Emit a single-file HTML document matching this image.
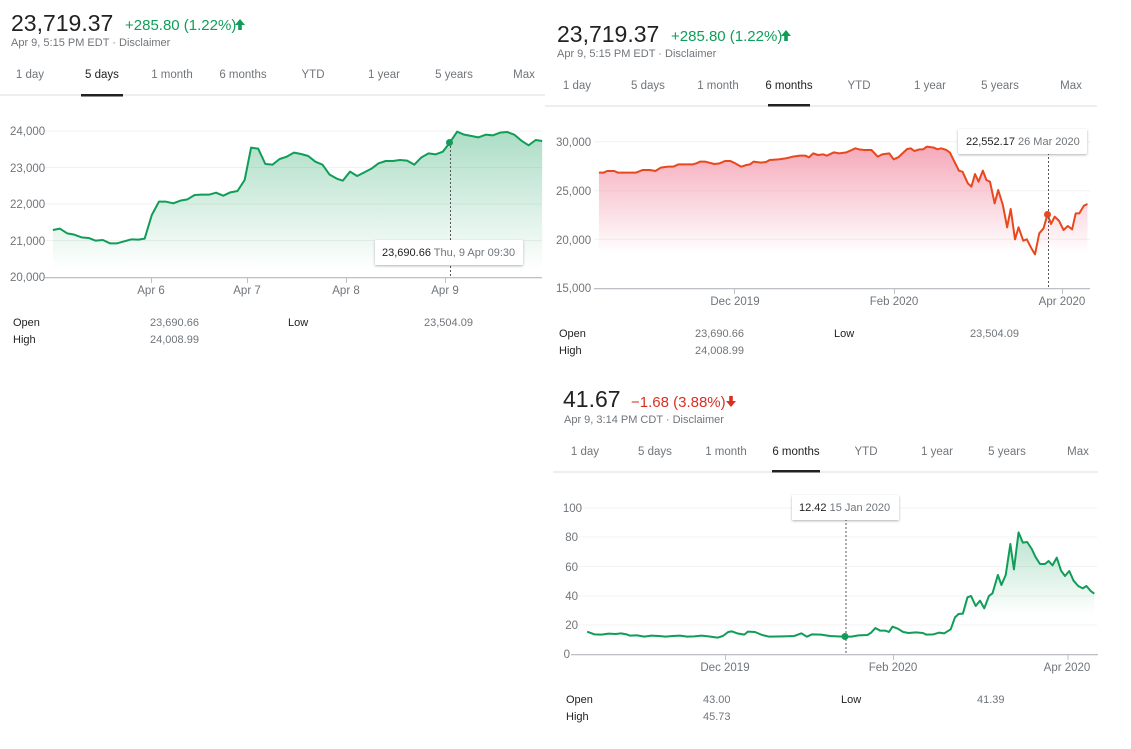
<!DOCTYPE html>
<html><head><meta charset="utf-8"><style>
html,body{margin:0;padding:0;background:#fff}
svg{display:block;font-family:"Liberation Sans",Arial,sans-serif}
.big{font-size:23px;fill:#222}
.g{fill:#0f9d58;font-size:15px}
.r{fill:#d93025;font-size:15px}
.sub{font-size:11px;fill:#70757a}
.tab{font-size:11.5px;fill:#70757a;text-anchor:middle}
.tabs{font-size:11.5px;fill:#222;text-anchor:middle}
.ax{font-size:11.5px;fill:#70757a}
.st{font-size:11px;fill:#222}
.sv{font-size:11px;fill:#70757a}
.ln{fill:none;stroke-width:2;stroke-linejoin:round;vector-effect:non-scaling-stroke}
</style></head><body>
<svg width="1131" height="749" viewBox="0 0 1131 749">
<defs>
<linearGradient id="g1" gradientUnits="userSpaceOnUse" x1="0" y1="390" x2="0" y2="810"><stop offset="0" stop-color="#0f9d58" stop-opacity=".35"/><stop offset="1" stop-color="#0f9d58" stop-opacity="0"/></linearGradient>
<linearGradient id="g2" gradientUnits="userSpaceOnUse" x1="0" y1="135" x2="0" y2="460"><stop offset="0" stop-color="#f28ba2" stop-opacity=".75"/><stop offset="1" stop-color="#f28ba2" stop-opacity="0"/></linearGradient>
<linearGradient id="g3" gradientUnits="userSpaceOnUse" x1="0" y1="150" x2="0" y2="405"><stop offset="0" stop-color="#0f9d58" stop-opacity=".3"/><stop offset="1" stop-color="#0f9d58" stop-opacity="0"/></linearGradient>
<filter id="sh" x="-10%" y="-20%" width="120%" height="150%"><feDropShadow dx="0" dy="1" stdDeviation="1.2" flood-opacity=".3"/></filter>
</defs>

<!-- PANEL 1 -->
<text x="11" y="31" class="big">23,719.37</text>
<text x="125" y="30" class="g">+285.80 (1.22%)</text>
<path d="M240 19 l-5 6 h3.2 v5 h3.6 v-5 h3.2z" fill="#0f9d58"/>
<text x="11" y="46" class="sub">Apr 9, 5:15 PM EDT · Disclaimer</text>
<text x="30" y="78" class="tab">1 day</text>
<text x="102" y="78" class="tabs">5 days</text>
<text x="172" y="78" class="tab">1 month</text>
<text x="243" y="78" class="tab">6 months</text>
<text x="313" y="78" class="tab">YTD</text>
<text x="384" y="78" class="tab">1 year</text>
<text x="454" y="78" class="tab">5 years</text>
<text x="524" y="78" class="tab">Max</text>
<rect x="0" y="94.5" width="545" height="1" fill="#dadce0"/>
<rect x="81" y="94" width="42" height="2.5" fill="#222"/>
<g stroke="#f1f1f1"><line x1="45" y1="131" x2="542" y2="131"/><line x1="45" y1="167.5" x2="542" y2="167.5"/><line x1="45" y1="204" x2="542" y2="204"/><line x1="45" y1="240.5" x2="542" y2="240.5"/></g>
<g class="ax"><text x="10" y="135">24,000</text><text x="10" y="172">23,000</text><text x="10" y="208">22,000</text><text x="10" y="245">21,000</text><text x="10" y="281">20,000</text></g>
<g transform="scale(0.35714,0.33333)">
<polygon fill="url(#g1)" points="148,831 148,690 168,686 188,700 208,704 228,712 248,714 268,722 288,720 308,730 328,730 348,724 368,718 388,719 405,716 425,645 445,605 465,605 485,610 505,602 525,598 545,585 565,584 585,584 605,578 625,587 645,577 665,573 685,540 703,443 723,446 743,492 763,494 783,477 803,470 823,458 843,462 863,468 883,485 903,494 923,524 943,536 960,542 980,515 1000,528 1020,517 1040,506 1060,490 1080,483 1100,483 1120,480 1140,482 1160,494 1180,472 1200,460 1220,463 1240,455 1260,427 1280,395 1300,404 1320,408 1340,412 1360,404 1380,406 1400,398 1420,396 1440,404 1460,422 1480,436 1500,420 1518,423 1518,831"/>
<polyline class="ln" stroke="#0f9d58" points="148,690 168,686 188,700 208,704 228,712 248,714 268,722 288,720 308,730 328,730 348,724 368,718 388,719 405,716 425,645 445,605 465,605 485,610 505,602 525,598 545,585 565,584 585,584 605,578 625,587 645,577 665,573 685,540 703,443 723,446 743,492 763,494 783,477 803,470 823,458 843,462 863,468 883,485 903,494 923,524 943,536 960,542 980,515 1000,528 1020,517 1040,506 1060,490 1080,483 1100,483 1120,480 1140,482 1160,494 1180,472 1200,460 1220,463 1240,455 1260,427 1280,395 1300,404 1320,408 1340,412 1360,404 1380,406 1400,398 1420,396 1440,404 1460,422 1480,436 1500,420 1518,423"/>
</g>
<rect x="45" y="277" width="497" height="1.3" fill="#bdc1c6"/>
<g stroke="#bdc1c6"><line x1="151.5" y1="277" x2="151.5" y2="283"/><line x1="247.5" y1="277" x2="247.5" y2="283"/><line x1="346.5" y1="277" x2="346.5" y2="283"/><line x1="445.5" y1="277" x2="445.5" y2="283"/></g>
<g class="ax" text-anchor="middle"><text x="151" y="294">Apr 6</text><text x="247" y="294">Apr 7</text><text x="346" y="294">Apr 8</text><text x="445" y="294">Apr 9</text></g>
<line x1="450.5" y1="142" x2="450.5" y2="277" stroke="#555" stroke-dasharray="2,2"/>
<circle cx="449.5" cy="142.5" r="3.5" fill="#0f9d58"/>
<rect x="375" y="240" width="148" height="25" fill="#fff" filter="url(#sh)" rx="1"/>
<text x="382" y="256" style="font-size:11px;fill:#222">23,690.66 <tspan fill="#70757a">Thu, 9 Apr 09:30</tspan></text>
<text x="13" y="326" class="st">Open</text><text x="150" y="326" class="sv">23,690.66</text>
<text x="288" y="326" class="st">Low</text><text x="424" y="326" class="sv">23,504.09</text>
<text x="13" y="343" class="st">High</text><text x="150" y="343" class="sv">24,008.99</text>

<!-- PANEL 2 -->
<text x="557" y="42" class="big">23,719.37</text>
<text x="671" y="41" class="g">+285.80 (1.22%)</text>
<path d="M786 30 l-5 6 h3.2 v5 h3.6 v-5 h3.2z" fill="#0f9d58"/>
<text x="557" y="57" class="sub">Apr 9, 5:15 PM EDT · Disclaimer</text>
<text x="577" y="89" class="tab">1 day</text>
<text x="648" y="89" class="tab">5 days</text>
<text x="718" y="89" class="tab">1 month</text>
<text x="789" y="89" class="tabs">6 months</text>
<text x="859" y="89" class="tab">YTD</text>
<text x="930" y="89" class="tab">1 year</text>
<text x="1000" y="89" class="tab">5 years</text>
<text x="1071" y="89" class="tab">Max</text>
<rect x="545" y="105.5" width="552" height="1" fill="#dadce0"/>
<rect x="768" y="104" width="42" height="2.5" fill="#222"/>
<g stroke="#f1f1f1"><line x1="594" y1="141.7" x2="1090" y2="141.7"/><line x1="594" y1="190.7" x2="1090" y2="190.7"/><line x1="594" y1="239.3" x2="1090" y2="239.3"/></g>
<g class="ax"><text x="556" y="146">30,000</text><text x="556" y="195">25,000</text><text x="556" y="244">20,000</text><text x="556" y="292">15,000</text></g>
<g transform="translate(550,100) scale(0.35714,0.33333)">
<polygon fill="url(#g2)" points="137,567 137,218 150,218 160,213 180,213 190,218 240,218 260,210 280,210 295,213 310,203 330,200 345,200 360,193 400,193 410,190 420,185 435,185 460,192 475,190 490,183 505,183 515,188 535,200 550,195 560,193 570,185 590,188 605,186 615,180 640,178 660,175 680,170 700,167 715,167 725,172 737,160 750,165 765,163 775,167 795,157 810,160 830,157 845,150 855,145 865,148 880,150 900,150 918,170 930,163 950,160 962,178 975,172 985,162 1000,147 1010,145 1020,153 1035,148 1045,148 1055,140 1075,143 1085,148 1095,145 1110,150 1120,158 1130,180 1145,212 1155,215 1170,250 1180,260 1190,222 1200,245 1212,212 1222,240 1232,245 1245,310 1255,270 1268,315 1280,382 1290,327 1302,418 1312,382 1325,422 1335,418 1348,445 1358,463 1370,400 1382,385 1393,343 1403,372 1413,350 1425,362 1438,390 1450,378 1462,388 1472,340 1482,340 1495,317 1505,312 1505,567"/>
<polyline class="ln" stroke="#e8481c" points="137,218 150,218 160,213 180,213 190,218 240,218 260,210 280,210 295,213 310,203 330,200 345,200 360,193 400,193 410,190 420,185 435,185 460,192 475,190 490,183 505,183 515,188 535,200 550,195 560,193 570,185 590,188 605,186 615,180 640,178 660,175 680,170 700,167 715,167 725,172 737,160 750,165 765,163 775,167 795,157 810,160 830,157 845,150 855,145 865,148 880,150 900,150 918,170 930,163 950,160 962,178 975,172 985,162 1000,147 1010,145 1020,153 1035,148 1045,148 1055,140 1075,143 1085,148 1095,145 1110,150 1120,158 1130,180 1145,212 1155,215 1170,250 1180,260 1190,222 1200,245 1212,212 1222,240 1232,245 1245,310 1255,270 1268,315 1280,382 1290,327 1302,418 1312,382 1325,422 1335,418 1348,445 1358,463 1370,400 1382,385 1393,343 1403,372 1413,350 1425,362 1438,390 1450,378 1462,388 1472,340 1482,340 1495,317 1505,312"/>
</g>
<rect x="594" y="288" width="496" height="1.3" fill="#bdc1c6"/>
<g stroke="#bdc1c6"><line x1="734.5" y1="288" x2="734.5" y2="294"/><line x1="894.5" y1="288" x2="894.5" y2="294"/><line x1="1062.5" y1="288" x2="1062.5" y2="294"/></g>
<g class="ax" text-anchor="middle"><text x="735" y="305">Dec 2019</text><text x="894" y="305">Feb 2020</text><text x="1062" y="305">Apr 2020</text></g>
<line x1="1048.5" y1="153" x2="1048.5" y2="288" stroke="#555" stroke-dasharray="2,2"/>
<circle cx="1047.5" cy="214.5" r="3.5" fill="#e8481c"/>
<rect x="958" y="129" width="129" height="25" fill="#fff" filter="url(#sh)" rx="1"/>
<text x="966" y="145" style="font-size:11px;fill:#222">22,552.17 <tspan fill="#70757a">26 Mar 2020</tspan></text>
<text x="559" y="337" class="st">Open</text><text x="695" y="337" class="sv">23,690.66</text>
<text x="834" y="337" class="st">Low</text><text x="970" y="337" class="sv">23,504.09</text>
<text x="559" y="354" class="st">High</text><text x="695" y="354" class="sv">24,008.99</text>

<!-- PANEL 3 -->
<text x="563" y="407" class="big">41.67</text>
<text x="631" y="407" class="r">−1.68 (3.88%)</text>
<path d="M731 407 l-5 -6 h3.2 v-5 h3.6 v5 h3.2z" fill="#d93025"/>
<text x="564" y="423" class="sub">Apr 9, 3:14 PM CDT · Disclaimer</text>
<text x="585" y="455" class="tab">1 day</text>
<text x="655" y="455" class="tab">5 days</text>
<text x="726" y="455" class="tab">1 month</text>
<text x="796" y="455" class="tabs">6 months</text>
<text x="866" y="455" class="tab">YTD</text>
<text x="937" y="455" class="tab">1 year</text>
<text x="1007" y="455" class="tab">5 years</text>
<text x="1078" y="455" class="tab">Max</text>
<rect x="553" y="471.5" width="545" height="1" fill="#dadce0"/>
<rect x="772" y="470" width="48" height="2.5" fill="#222"/>
<g stroke="#f3f3f3"><line x1="573" y1="508" x2="1097" y2="508"/><line x1="573" y1="537" x2="1097" y2="537"/><line x1="573" y1="566.5" x2="1097" y2="566.5"/><line x1="573" y1="596" x2="1097" y2="596"/><line x1="573" y1="625" x2="1097" y2="625"/></g>
<g class="ax" text-anchor="end"><text x="582" y="512">100</text><text x="578" y="541">80</text><text x="578" y="571">60</text><text x="578" y="600">40</text><text x="578" y="629">20</text><text x="570" y="658">0</text></g>
<g transform="translate(555,480) scale(0.35714,0.33333)">
<polygon fill="url(#g3)" points="90,522 90,455 110,463 130,464 150,461 170,462 185,460 200,463 210,467 230,466 250,470 270,467 290,468 310,470 330,468 350,467 370,470 390,469 410,467 430,469 455,473 470,468 485,456 495,454 510,460 530,464 540,455 560,456 580,465 600,470 640,469 670,468 690,460 705,470 720,463 745,464 770,468 790,469 810,470 830,470 850,466 875,465 885,458 897,444 910,452 925,452 935,456 945,440 960,446 975,456 990,459 1010,457 1030,459 1040,464 1060,463 1075,458 1090,460 1108,448 1120,412 1130,402 1142,401 1155,352 1165,348 1178,378 1190,362 1202,385 1215,348 1225,340 1240,285 1250,315 1262,285 1275,192 1285,268 1298,157 1310,188 1322,186 1335,207 1345,230 1358,252 1372,252 1382,243 1393,256 1405,233 1417,272 1428,288 1440,273 1452,302 1465,318 1478,325 1488,318 1500,333 1510,341 1510,522"/>
<polyline class="ln" stroke="#0f9d58" points="90,455 110,463 130,464 150,461 170,462 185,460 200,463 210,467 230,466 250,470 270,467 290,468 310,470 330,468 350,467 370,470 390,469 410,467 430,469 455,473 470,468 485,456 495,454 510,460 530,464 540,455 560,456 580,465 600,470 640,469 670,468 690,460 705,470 720,463 745,464 770,468 790,469 810,470 830,470 850,466 875,465 885,458 897,444 910,452 925,452 935,456 945,440 960,446 975,456 990,459 1010,457 1030,459 1040,464 1060,463 1075,458 1090,460 1108,448 1120,412 1130,402 1142,401 1155,352 1165,348 1178,378 1190,362 1202,385 1215,348 1225,340 1240,285 1250,315 1262,285 1275,192 1285,268 1298,157 1310,188 1322,186 1335,207 1345,230 1358,252 1372,252 1382,243 1393,256 1405,233 1417,272 1428,288 1440,273 1452,302 1465,318 1478,325 1488,318 1500,333 1510,341"/>
</g>
<rect x="571" y="654" width="527" height="1.3" fill="#bdc1c6"/>
<g stroke="#bdc1c6"><line x1="725.5" y1="654" x2="725.5" y2="660"/><line x1="893.5" y1="654" x2="893.5" y2="660"/><line x1="1068" y1="654" x2="1068" y2="660"/></g>
<g class="ax" text-anchor="middle"><text x="725" y="671">Dec 2019</text><text x="893" y="671">Feb 2020</text><text x="1067" y="671">Apr 2020</text></g>
<line x1="846" y1="519" x2="846" y2="655" stroke="#555" stroke-dasharray="2,2"/>
<circle cx="845" cy="636.5" r="3.5" fill="#0f9d58"/>
<rect x="792" y="495" width="107" height="25" fill="#fff" filter="url(#sh)" rx="1"/>
<text x="799" y="511" style="font-size:11px;fill:#222">12.42 <tspan fill="#70757a">15 Jan 2020</tspan></text>
<text x="566" y="703" class="st">Open</text><text x="703" y="703" class="sv">43.00</text>
<text x="841" y="703" class="st">Low</text><text x="977" y="703" class="sv">41.39</text>
<text x="566" y="720" class="st">High</text><text x="703" y="720" class="sv">45.73</text>
</svg>
</body></html>
